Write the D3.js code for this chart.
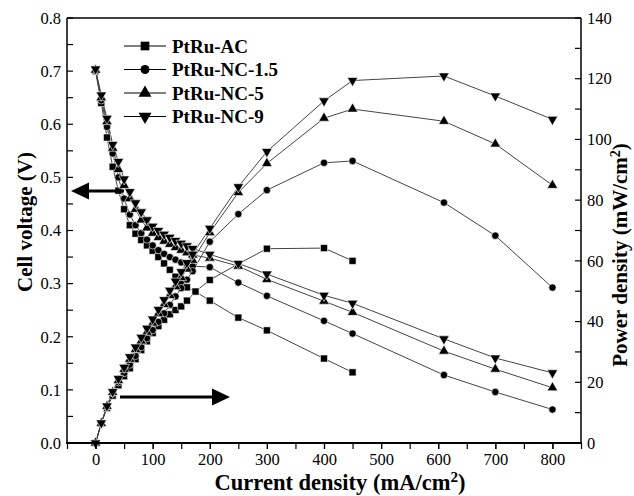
<!DOCTYPE html>
<html>
<head>
<meta charset="utf-8">
<script src="https://cdn.jsdelivr.net/npm/d3@7"></script>
<style>
  html, body { margin: 0; padding: 0; background: #fff; }
  svg { display: block; }
  text { font-family: "Liberation Serif", "DejaVu Serif", serif; fill: #000; }
</style>
</head>
<body>
<svg id="chart" width="634" height="496"></svg>
<script>
// Current density (mA/cm2) sampled for each catalyst
const currentAC  = [0,10,20,30,40,50,60,70,80,90,100,110,120,130,140,150,160,175,200,250,300,400,450];
const currentNC  = [0,10,20,30,40,50,60,70,80,90,100,110,120,130,140,150,160,170,200,250,300,400,450,610,700,800];

// Cell voltage (V)
const voltAC   = [0.700,0.640,0.575,0.520,0.475,0.440,0.410,0.394,0.382,0.372,0.362,0.350,0.338,0.326,0.313,0.300,0.293,0.285,0.268,0.236,0.212,0.159,0.133];
const voltNC15 = [0.700,0.645,0.595,0.545,0.500,0.460,0.430,0.410,0.395,0.383,0.372,0.363,0.356,0.350,0.345,0.340,0.336,0.333,0.331,0.302,0.277,0.230,0.206,0.128,0.096,0.063];
const voltNC5  = [0.702,0.650,0.605,0.555,0.515,0.485,0.460,0.440,0.420,0.405,0.395,0.387,0.380,0.374,0.368,0.363,0.358,0.354,0.348,0.333,0.308,0.267,0.246,0.173,0.139,0.104];
const voltNC9  = [0.704,0.655,0.611,0.562,0.530,0.497,0.473,0.452,0.435,0.420,0.408,0.400,0.393,0.387,0.381,0.376,0.371,0.366,0.355,0.338,0.318,0.278,0.263,0.196,0.160,0.132];

// Power density (mW/cm2)
const powerAC   = [0,6.4,11.5,15.6,19.0,22.0,24.6,27.6,30.6,33.5,36.2,38.5,40.6,42.4,43.8,45.0,46.9,49.9,53.7,59.0,64.0,64.2,60.0];
const powerNC15 = [0,6.5,11.9,16.4,20.0,23.0,25.8,28.7,31.6,34.5,37.2,39.9,42.7,45.5,48.3,51.0,53.8,56.6,66.3,75.4,83.3,92.3,92.9,79.2,68.3,51.2];
const powerNC5  = [0,6.5,12.1,16.7,20.6,24.3,27.6,30.8,33.6,36.5,39.5,42.6,45.6,48.6,51.5,54.5,57.3,60.2,69.3,82.5,92.1,107.0,110.0,106.0,98.5,84.9];
const powerNC9  = [0,6.6,12.2,16.9,21.2,24.9,28.4,31.6,34.8,37.8,40.8,44.0,47.2,50.3,53.3,56.4,59.4,62.2,70.7,84.4,96.0,112.7,119.4,120.9,114.3,106.6];

const seriesNames = ["PtRu-AC", "PtRu-NC-1.5", "PtRu-NC-5", "PtRu-NC-9"];

// Axis ticks
const xTicks = [0,100,200,300,400,500,600,700,800];
const vTicks = [0,0.1,0.2,0.3,0.4,0.5,0.6,0.7,0.8];
const pTicks = [0,20,40,60,80,100,120,140];

const series = [
  { name: seriesNames[0], shape: d3.symbolSquare,   size: 50, cur: currentAC, volt: voltAC,   power: powerAC },
  { name: seriesNames[1], shape: d3.symbolCircle,   size: 42, cur: currentNC, volt: voltNC15, power: powerNC15 },
  { name: seriesNames[2], shape: d3.symbolTriangle, size: 48, cur: currentNC, volt: voltNC5,  power: powerNC5 },
  { name: seriesNames[3], shape: "down",            size: 48, cur: currentNC, volt: voltNC9,  power: powerNC9 }
];

const svg = d3.select("#chart");
const L = 67, R = 581, T = 18, B = 443;

const x  = d3.scaleLinear().domain([-50, 850]).range([L, R]);
const yV = d3.scaleLinear().domain([0, 0.8]).range([B, T]);
const yP = d3.scaleLinear().domain([0, 140]).range([B, T]);

function symbolPath(s, k) {
  const shape = s.shape === "down" ? d3.symbolTriangle : s.shape;
  return d3.symbol(shape, s.size * (k || 1))();
}

const plot = svg.append("g");

// Lines for every curve
series.forEach(s => {
  const vPts = s.cur.map((c, i) => [c, s.volt[i]]);
  const pPts = s.cur.map((c, i) => [c, s.power[i]]);
  plot.append("path")
    .attr("d", d3.line().x(d => x(d[0])).y(d => yV(d[1]))(vPts))
    .attr("fill", "none").attr("stroke", "#444").attr("stroke-width", 1);
  plot.append("path")
    .attr("d", d3.line().x(d => x(d[0])).y(d => yP(d[1]))(pPts))
    .attr("fill", "none").attr("stroke", "#444").attr("stroke-width", 1);
});

// Markers
series.forEach(s => {
  const rot = s.shape === "down" ? " rotate(180)" : "";
  const groups = [
    s.cur.map((c, i) => [x(c), yV(s.volt[i])]),
    s.cur.map((c, i) => [x(c), yP(s.power[i])])
  ];
  groups.forEach(pts => {
    plot.selectAll(null).data(pts).enter().append("path")
      .attr("d", symbolPath(s))
      .attr("transform", d => `translate(${d[0]},${d[1]})${rot}`)
      .attr("fill", "#000")
      .attr("stroke", "#fff").attr("stroke-width", 0.6);
  });
});

// Axes
const tickLen = 6;
const xAxis = d3.axisBottom(x).tickValues(xTicks).tickSize(tickLen).tickPadding(4).tickSizeOuter(0);
const xMinor = d3.axisBottom(x).tickValues(d3.range(-50, 851, 50)).tickSize(tickLen).tickFormat("").tickSizeOuter(0);
const vAxis = d3.axisLeft(yV).tickValues(vTicks).tickSize(0).tickPadding(6).tickFormat(d3.format(".1f"));
const pAxis = d3.axisRight(yP).tickValues(pTicks).tickSize(0).tickPadding(6).tickFormat(d3.format("d"));

const gx = svg.append("g").attr("transform", `translate(0,${B})`).call(xMinor);
gx.select(".domain").remove();
const gx2 = svg.append("g").attr("transform", `translate(0,${B})`).call(xAxis);
gx2.select(".domain").remove();

const gv = svg.append("g").attr("transform", `translate(${L},0)`).call(vAxis);
gv.select(".domain").remove();
const gp = svg.append("g").attr("transform", `translate(${R},0)`).call(pAxis);
gp.select(".domain").remove();

[gx, gx2, gv, gp].forEach(g => {
  g.selectAll("text").style("font-family", '"Liberation Serif", serif').style("font-size", "16.5px").attr("fill", "#000");
  g.selectAll("line").attr("stroke", "#000").attr("stroke-width", 1.2);
});

// Inward ticks on the left and right axes (major and minor)
const vMinor = d3.range(0, 0.801, 0.05);
svg.append("g").selectAll("line").data(vMinor).enter().append("line")
  .attr("x1", L).attr("x2", L + tickLen)
  .attr("y1", d => yV(d)).attr("y2", d => yV(d))
  .attr("stroke", "#000").attr("stroke-width", 1.2);
const pMinor = d3.range(0, 141, 10);
svg.append("g").selectAll("line").data(pMinor).enter().append("line")
  .attr("x1", R - tickLen).attr("x2", R)
  .attr("y1", d => yP(d)).attr("y2", d => yP(d))
  .attr("stroke", "#000").attr("stroke-width", 1.2);

// Frame
svg.append("line").attr("x1", L).attr("x2", R).attr("y1", T).attr("y2", T).attr("stroke", "#000").attr("stroke-width", 1.5);
svg.append("line").attr("x1", L).attr("x2", L).attr("y1", T).attr("y2", B).attr("stroke", "#000").attr("stroke-width", 1.5);
svg.append("line").attr("x1", R).attr("x2", R).attr("y1", T).attr("y2", B).attr("stroke", "#000").attr("stroke-width", 1.5);
svg.append("line").attr("x1", L - 1).attr("x2", R + 1).attr("y1", B).attr("y2", B).attr("stroke", "#000").attr("stroke-width", 2.2);

// Axis titles
svg.append("text")
  .attr("x", 340).attr("y", 490).attr("text-anchor", "middle")
  .style("font-size", "22.5px").style("font-weight", "bold")
  .html('Current density (mA/cm<tspan baseline-shift="super" font-size="15px">2</tspan>)');
svg.append("text")
  .attr("transform", "translate(32,222) rotate(-90)").attr("text-anchor", "middle")
  .style("font-size", "21px").style("font-weight", "bold")
  .text("Cell voltage (V)");
svg.append("text")
  .attr("transform", "translate(627,255) rotate(-90)").attr("text-anchor", "middle")
  .style("font-size", "21px").style("font-weight", "bold")
  .html('Power density (mW/cm<tspan baseline-shift="super" font-size="14px">2</tspan>)');

// Legend
const legend = svg.append("g");
series.forEach((s, i) => {
  const ly = 46 + i * 23.5;
  legend.append("line").attr("x1", 124).attr("x2", 166).attr("y1", ly).attr("y2", ly)
    .attr("stroke", "#000").attr("stroke-width", 1);
  const rot = s.shape === "down" ? " rotate(180)" : "";
  legend.append("path").attr("d", symbolPath(s, 1.5))
    .attr("transform", `translate(145,${ly})${rot}`).attr("fill", "#000");
  legend.append("text").attr("x", 172).attr("y", ly + 6.5)
    .style("font-size", "19px").style("font-weight", "bold")
    .text(s.name);
});

// Arrows pointing to the axis each curve family belongs to
function arrow(x0, x1, yy) {
  const dir = Math.sign(x1 - x0);
  const headLen = 18, headHalf = 8.5;
  svg.append("line").attr("x1", x0).attr("x2", x1 - dir * headLen + dir * 2).attr("y1", yy).attr("y2", yy)
    .attr("stroke", "#000").attr("stroke-width", 3.2);
  svg.append("path")
    .attr("d", `M${x1},${yy} L${x1 - dir * headLen},${yy - headHalf} L${x1 - dir * headLen},${yy + headHalf} Z`)
    .attr("fill", "#000");
}
arrow(124, 71, 191);
arrow(120, 230, 397);
</script>
</body>
</html>
